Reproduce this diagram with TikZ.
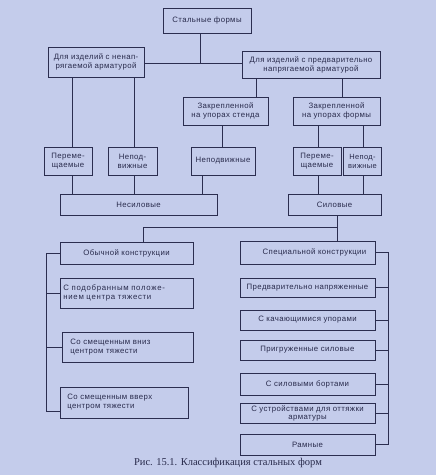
\documentclass[tikz,border=0pt]{standalone}
\usepackage{fontspec}
\setmainfont{Liberation Serif}
\newfontfamily\boxfont{Liberation Sans}[LetterSpace=5]
\newfontfamily\wideboxfont{Liberation Sans}[LetterSpace=9]
\definecolor{bgc}{RGB}{196,204,235}
\definecolor{ink}{RGB}{43,45,79}
\definecolor{txt}{RGB}{40,42,75}
\begin{document}
\begin{tikzpicture}[x=1pt,y=-1pt,
  box/.style={draw=ink, line width=0.85pt, inner sep=1pt, align=center, text=txt,
    font=\boxfont\fontsize{7.8}{9}\selectfont},
  link/.style={draw=ink, line width=0.85pt}]
\fill[bgc] (0,0) rectangle (436,475);
\useasboundingbox (0,0) rectangle (436,475);
% top level
\node[box, minimum width=88, minimum height=25] (top) at (207,20.5) {Стальные формы};
\node[box, minimum width=96, minimum height=30] (l1) at (96,62) {Для изделий с ненап-\\рягаемой арматурой};
\node[box, minimum width=138, minimum height=27] (r1) at (311,64.5) {Для изделий с предварительно\\напрягаемой арматурой};
\coordinate (j1) at (200,63);
\draw[link] (top.south -| j1) -- (j1);
\draw[link] (l1.east |- j1) -- (r1.west |- j1);
% second level
\node[box, minimum width=85, minimum height=28] (s1) at (225.5,111) {Закрепленной\\на упорах стенда};
\node[box, minimum width=87, minimum height=28] (f1) at (336.5,111) {Закрепленной\\на упорах формы};
\node[box, minimum width=48, minimum height=28] (p1) at (68,161) {Переме-\\щаемые};
\node[box, minimum width=49, minimum height=28] (n1) at (132.5,161) {Непод-\\вижные};
\node[box, minimum width=64, minimum height=28] (n2) at (223,161) {Неподвижные};
\node[box, minimum width=48, minimum height=28] (p2) at (317,161) {Переме-\\щаемые};
\node[box, minimum width=38, minimum height=28, inner sep=0pt, font=\boxfont\fontsize{7.5}{9}\selectfont] (n3) at (362.5,161) {Непод-\\вижные};
\node[box, minimum width=157, minimum height=21] (ns) at (138.5,204.5) {Несиловые};
\node[box, minimum width=93, minimum height=21] (sl) at (334.5,204.5) {Силовые};
\coordinate (xa) at (72,0);
\coordinate (xb) at (134,0);
\coordinate (xc) at (256,0);
\coordinate (xd) at (342,0);
\coordinate (xe) at (222,0);
\coordinate (xf) at (202,0);
\coordinate (xg) at (318,0);
\coordinate (xh) at (363,0);
\draw[link] (l1.south -| xa) -- (p1.north -| xa);
\draw[link] (l1.south -| xb) -- (n1.north -| xb);
\draw[link] (r1.south -| xc) -- (s1.north -| xc);
\draw[link] (r1.south -| xd) -- (f1.north -| xd);
\draw[link] (s1.south -| xe) -- (n2.north -| xe);
\draw[link] (f1.south -| xg) -- (p2.north -| xg);
\draw[link] (f1.south -| xh) -- (n3.north -| xh);
\draw[link] (p1.south -| xa) -- (ns.north -| xa);
\draw[link] (n1.south -| xb) -- (ns.north -| xb);
\draw[link] (n2.south -| xf) -- (ns.north -| xf);
\draw[link] (p2.south -| xg) -- (sl.north -| xg);
\draw[link] (n3.south -| xh) -- (sl.north -| xh);
% lower part
\node[box, minimum width=133, minimum height=22] (ob) at (126.5,253) {Обычной конструкции};
\node[box, minimum width=133, minimum height=30, align=left, anchor=west, text width=127, inner xsep=3pt, font=\wideboxfont\fontsize{7.8}{9.5}\selectfont] (c2) at (60,293) {С подобранным положе-\\нием центра тяжести};
\node[box, minimum width=131, minimum height=30, align=left, anchor=west, text width=115, inner xsep=8pt] (c3) at (62,347) {Со смещенным вниз\\центром тяжести};
\node[box, minimum width=128, minimum height=31, align=left, anchor=west, text width=114, inner xsep=7pt] (c4) at (60,402.5) {Со смещенным вверх\\центром тяжести};
\node[box, minimum width=135, minimum height=23] (sp) at (307.5,252.5) {\hspace*{14pt}Специальной конструкции};
\node[box, minimum width=135, minimum height=19] (b2) at (307.5,287.5) {Предварительно напряженные};
\node[box, minimum width=135, minimum height=20] (b3) at (307.5,320) {С качающимися упорами};
\node[box, minimum width=135, minimum height=20] (b4) at (307.5,350) {Пригруженные силовые};
\node[box, minimum width=135, minimum height=22] (b5) at (307.5,384) {С силовыми бортами};
\node[box, minimum width=135, minimum height=20, inner sep=0pt, font=\boxfont\fontsize{7.8}{8}\selectfont] (b6) at (307.5,413) {С устройствами для оттяжки\\арматуры};
\node[box, minimum width=135, minimum height=21] (b7) at (307.5,444.5) {Рамные};
\coordinate (xs) at (337,0);
\coordinate (jy) at (0,227);
\coordinate (xo) at (143,0);
\draw[link] (sl.south -| xs) -- (sp.north -| xs);
\draw[link] (xs |- jy) -- (xo |- jy) -- (ob.north -| xo);
% left bracket
\coordinate (lb) at (46,0);
\coordinate (c4y) at (0,411);
\draw[link] (ob.west) -- (ob.west -| lb) -- (lb |- c4y) -- (c4.west |- c4y);
\draw[link] (c2.west) -- (c2.west -| lb);
\draw[link] (c3.west) -- (c3.west -| lb);
% right bracket
\coordinate (rb) at (388,0);
\draw[link] (sp.east) -- (sp.east -| rb) -- (b7.east -| rb) -- (b7.east);
\foreach \n in {b2,b3,b4,b5,b6} \draw[link] (\n.east) -- (\n.east -| rb);
% caption
\node[text=txt, font=\fontsize{10.5}{12}\selectfont, inner sep=0pt] (cap) at (228,463) {Рис. 15.1. Классификация стальных форм};
\end{tikzpicture}
\end{document}
